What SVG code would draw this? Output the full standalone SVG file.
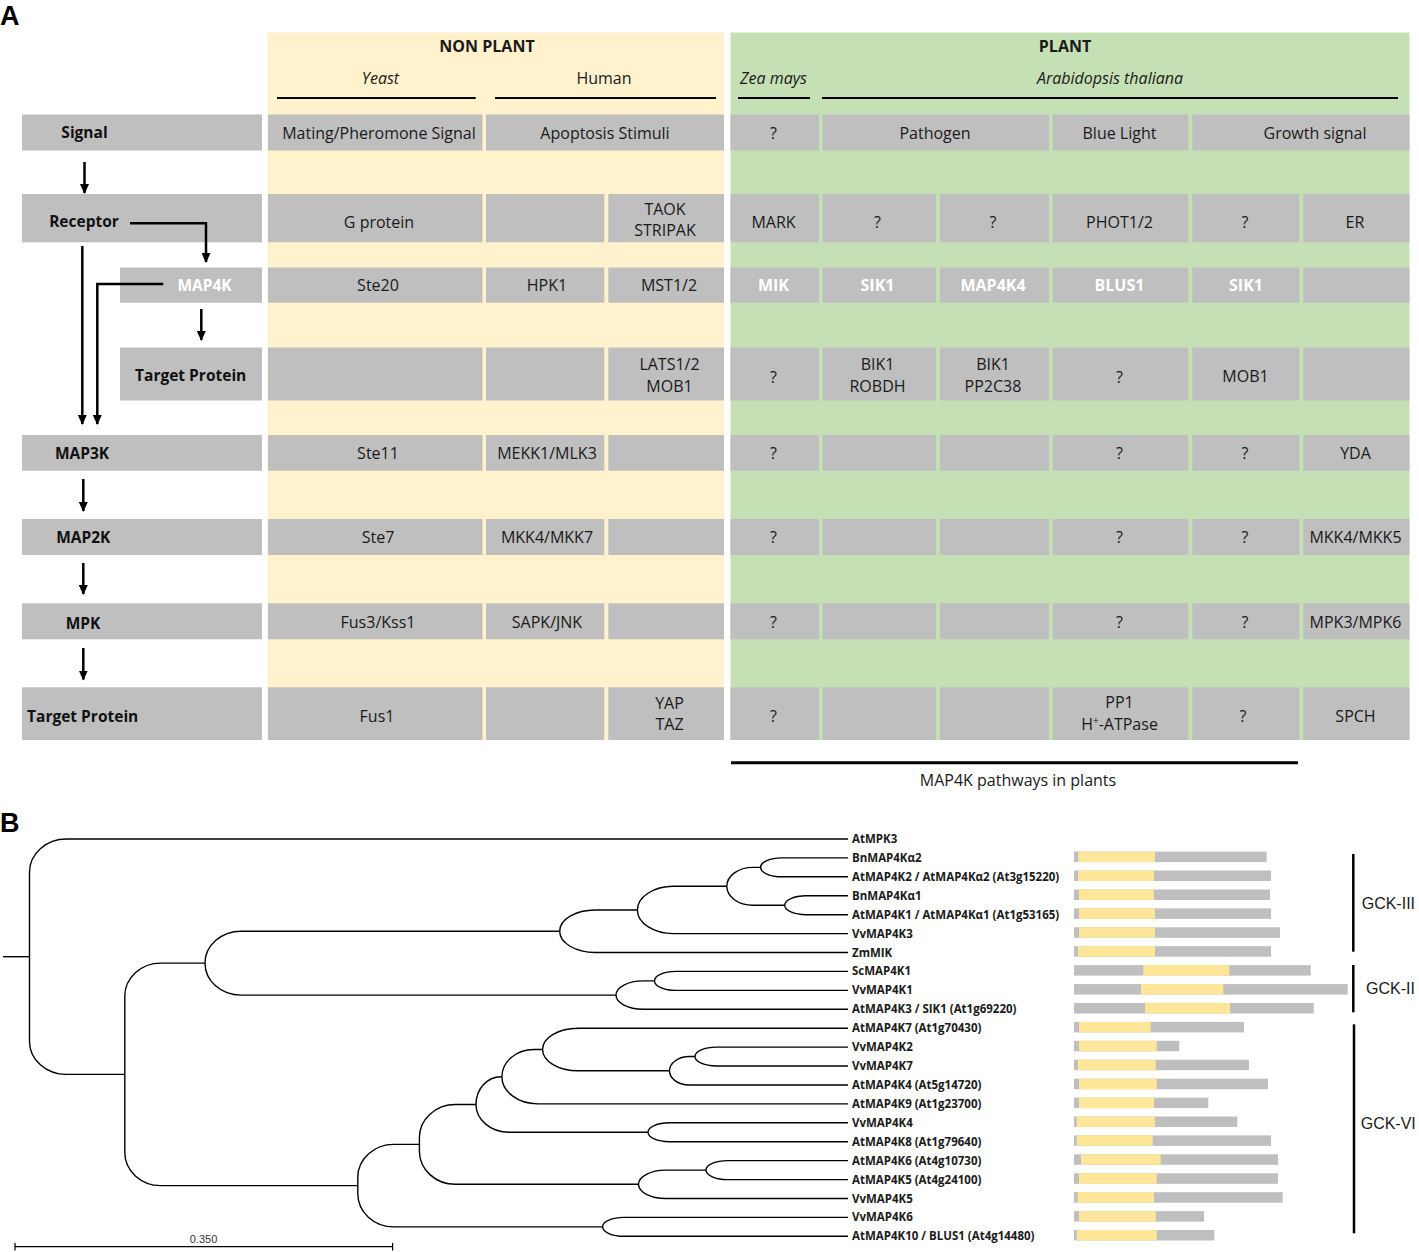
<svg xmlns="http://www.w3.org/2000/svg" width="1419" height="1252" viewBox="0 0 1419 1252">
<defs>
<style>
.c{fill:#bfbfbf}
.t{font-family:"Open Sans",sans-serif;font-size:16px;fill:#1a1a1a;text-anchor:middle}
.wb{fill:#ffffff;font-weight:700}
.it{font-style:italic}
.bd{font-weight:700}
.lb{font-family:"Open Sans",sans-serif;font-size:15.5px;font-weight:700;fill:#111;text-anchor:middle}
.arr{stroke:#000;stroke-width:2.5;fill:none;marker-end:url(#ah)}
.ul{stroke:#000;stroke-width:2}
.tr{stroke:#000;stroke-width:1.4;fill:none}
.lf{font-family:"Open Sans",sans-serif;font-size:11.5px;font-weight:700;fill:#1a1a1a}
.bg{fill:#bfbfbf}
.by{fill:#ffe699}
.gk{font-family:"Liberation Sans",Arial,sans-serif;font-size:16px;fill:#1a1a1a}
.gl{stroke:#000;stroke-width:2.5}
.pl{font-family:"Liberation Sans",Arial,sans-serif;font-weight:700;font-size:27px;fill:#000}
</style>
<marker id="ah" markerWidth="10" markerHeight="9" refX="9" refY="4.5" orient="auto" markerUnits="userSpaceOnUse"><path d="M0,0 L10,4.5 L0,9 z" fill="#000"/></marker>
</defs>
<rect width="1419" height="1252" fill="#ffffff"/>
<text class="pl" x="0" y="25">A</text>
<text class="pl" x="0" y="832">B</text>

<g id="panels">
<rect x="267.5" y="32.5" width="456.5" height="707.5" fill="#fff2cc"/>
<rect x="730.5" y="32.5" width="679" height="707.5" fill="#c5e0b4"/>
</g>

<g id="headers">
<text class="t bd" x="487" y="52.3">NON PLANT</text>
<text class="t bd" x="1065" y="52.3">PLANT</text>
<text class="t it" x="380.5" y="84">Yeast</text>
<text class="t" x="604" y="84">Human</text>
<text class="t it" x="773.5" y="84">Zea mays</text>
<text class="t it" x="1110" y="84">Arabidopsis thaliana</text>
<line class="ul" x1="277" y1="98" x2="475.7" y2="98"/>
<line class="ul" x1="495" y1="98" x2="716" y2="98"/>
<line class="ul" x1="738" y1="98" x2="810" y2="98"/>
<line class="ul" x1="822" y1="98" x2="1398" y2="98"/>
</g>

<g id="row-signal">
<rect class="c" x="22" y="114.5" width="240" height="36"/>
<rect class="c" x="268" y="114.5" width="214.5" height="36"/>
<rect class="c" x="486" y="114.5" width="238" height="36"/>
<rect class="c" x="730.5" y="114.5" width="88.5" height="36"/>
<rect class="c" x="822.5" y="114.5" width="226.5" height="36"/>
<rect class="c" x="1052.7" y="114.5" width="135.6" height="36"/>
<rect class="c" x="1192.3" y="114.5" width="217.2" height="36"/>
<text class="lb" x="84.5" y="138.3">Signal</text>
<text class="t" x="379" y="139">Mating/Pheromone Signal</text>
<text class="t" x="605" y="139">Apoptosis Stimuli</text>
<text class="t" x="773.5" y="139">?</text>
<text class="t" x="935" y="139">Pathogen</text>
<text class="t" x="1119.5" y="139">Blue Light</text>
<text class="t" x="1315" y="139">Growth signal</text>
</g>

<g id="row-receptor">
<rect class="c" x="22" y="194" width="240" height="48.3"/>
<rect class="c" x="268" y="194" width="214.5" height="48.3"/>
<rect class="c" x="486" y="194" width="118.3" height="48.3"/>
<rect class="c" x="608.3" y="194" width="115.7" height="48.3"/>
<rect class="c" x="730.5" y="194" width="88.5" height="48.3"/>
<rect class="c" x="822.5" y="194" width="113.5" height="48.3"/>
<rect class="c" x="940" y="194" width="109" height="48.3"/>
<rect class="c" x="1052.7" y="194" width="135.6" height="48.3"/>
<rect class="c" x="1192.3" y="194" width="107" height="48.3"/>
<rect class="c" x="1303.3" y="194" width="106.2" height="48.3"/>
<text class="lb" x="84" y="226.7">Receptor</text>
<text class="t" x="379" y="227.5">G protein</text>
<text class="t" x="665" y="215">TAOK</text>
<text class="t" x="665" y="236">STRIPAK</text>
<text class="t" x="773.5" y="227.5">MARK</text>
<text class="t" x="877.5" y="227.5">?</text>
<text class="t" x="993" y="227.5">?</text>
<text class="t" x="1119.5" y="227.5">PHOT1/2</text>
<text class="t" x="1245" y="227.5">?</text>
<text class="t" x="1355" y="227.5">ER</text>
</g>

<g id="row-map4k">
<rect class="c" x="120" y="267.5" width="142" height="35.2"/>
<rect class="c" x="268" y="267.5" width="214.5" height="35.2"/>
<rect class="c" x="486" y="267.5" width="118.3" height="35.2"/>
<rect class="c" x="608.3" y="267.5" width="115.7" height="35.2"/>
<rect class="c" x="730.5" y="267.5" width="88.5" height="35.2"/>
<rect class="c" x="822.5" y="267.5" width="113.5" height="35.2"/>
<rect class="c" x="940" y="267.5" width="109" height="35.2"/>
<rect class="c" x="1052.7" y="267.5" width="135.6" height="35.2"/>
<rect class="c" x="1192.3" y="267.5" width="107" height="35.2"/>
<rect class="c" x="1303.3" y="267.5" width="106.2" height="35.2"/>
<text class="lb" x="204.5" y="290.7" style="fill:#ffffff">MAP4K</text>
<text class="t" x="378" y="291">Ste20</text>
<text class="t" x="547" y="291">HPK1</text>
<text class="t" x="669" y="291">MST1/2</text>
<text class="t wb" x="773.5" y="291">MIK</text>
<text class="t wb" x="877.5" y="291">SIK1</text>
<text class="t wb" x="993" y="291">MAP4K4</text>
<text class="t wb" x="1119.5" y="291">BLUS1</text>
<text class="t wb" x="1246" y="291">SIK1</text>
</g>

<g id="row-map4k-target">
<rect class="c" x="120" y="347.5" width="142" height="53"/>
<rect class="c" x="268" y="347.5" width="214.5" height="53"/>
<rect class="c" x="486" y="347.5" width="118.3" height="53"/>
<rect class="c" x="608.3" y="347.5" width="115.7" height="53"/>
<rect class="c" x="730.5" y="347.5" width="88.5" height="53"/>
<rect class="c" x="822.5" y="347.5" width="113.5" height="53"/>
<rect class="c" x="940" y="347.5" width="109" height="53"/>
<rect class="c" x="1052.7" y="347.5" width="135.6" height="53"/>
<rect class="c" x="1192.3" y="347.5" width="107" height="53"/>
<rect class="c" x="1303.3" y="347.5" width="106.2" height="53"/>
<text class="lb" x="190.7" y="381">Target Protein</text>
<text class="t" x="669.5" y="370">LATS1/2</text>
<text class="t" x="669.5" y="391.7">MOB1</text>
<text class="t" x="773.5" y="382.7">?</text>
<text class="t" x="877.5" y="370">BIK1</text>
<text class="t" x="877.5" y="391.7">ROBDH</text>
<text class="t" x="993" y="370">BIK1</text>
<text class="t" x="993" y="391.7">PP2C38</text>
<text class="t" x="1119.5" y="382.7">?</text>
<text class="t" x="1245.5" y="381.7">MOB1</text>
</g>

<g id="row-map3k">
<rect class="c" x="22" y="435" width="240" height="35.7"/>
<rect class="c" x="268" y="435" width="214.5" height="35.7"/>
<rect class="c" x="486" y="435" width="118.3" height="35.7"/>
<rect class="c" x="608.3" y="435" width="115.7" height="35.7"/>
<rect class="c" x="730.5" y="435" width="88.5" height="35.7"/>
<rect class="c" x="822.5" y="435" width="113.5" height="35.7"/>
<rect class="c" x="940" y="435" width="109" height="35.7"/>
<rect class="c" x="1052.7" y="435" width="135.6" height="35.7"/>
<rect class="c" x="1192.3" y="435" width="107" height="35.7"/>
<rect class="c" x="1303.3" y="435" width="106.2" height="35.7"/>
<text class="lb" x="82" y="459.3">MAP3K</text>
<text class="t" x="378" y="459.3">Ste11</text>
<text class="t" x="547" y="459.3">MEKK1/MLK3</text>
<text class="t" x="773.5" y="459.3">?</text>
<text class="t" x="1119.5" y="459.3">?</text>
<text class="t" x="1245" y="459.3">?</text>
<text class="t" x="1355.5" y="459.3">YDA</text>
</g>

<g id="row-map2k">
<rect class="c" x="22" y="519" width="240" height="36"/>
<rect class="c" x="268" y="519" width="214.5" height="36"/>
<rect class="c" x="486" y="519" width="118.3" height="36"/>
<rect class="c" x="608.3" y="519" width="115.7" height="36"/>
<rect class="c" x="730.5" y="519" width="88.5" height="36"/>
<rect class="c" x="822.5" y="519" width="113.5" height="36"/>
<rect class="c" x="940" y="519" width="109" height="36"/>
<rect class="c" x="1052.7" y="519" width="135.6" height="36"/>
<rect class="c" x="1192.3" y="519" width="107" height="36"/>
<rect class="c" x="1303.3" y="519" width="106.2" height="36"/>
<text class="lb" x="83.3" y="543.3">MAP2K</text>
<text class="t" x="378" y="543.3">Ste7</text>
<text class="t" x="547" y="543.3">MKK4/MKK7</text>
<text class="t" x="773.5" y="543.3">?</text>
<text class="t" x="1119.5" y="543.3">?</text>
<text class="t" x="1245" y="543.3">?</text>
<text class="t" x="1355.5" y="543.3">MKK4/MKK5</text>
</g>

<g id="row-mpk">
<rect class="c" x="22" y="603.3" width="240" height="36"/>
<rect class="c" x="268" y="603.3" width="214.5" height="36"/>
<rect class="c" x="486" y="603.3" width="118.3" height="36"/>
<rect class="c" x="608.3" y="603.3" width="115.7" height="36"/>
<rect class="c" x="730.5" y="603.3" width="88.5" height="36"/>
<rect class="c" x="822.5" y="603.3" width="113.5" height="36"/>
<rect class="c" x="940" y="603.3" width="109" height="36"/>
<rect class="c" x="1052.7" y="603.3" width="135.6" height="36"/>
<rect class="c" x="1192.3" y="603.3" width="107" height="36"/>
<rect class="c" x="1303.3" y="603.3" width="106.2" height="36"/>
<text class="lb" x="83" y="629">MPK</text>
<text class="t" x="378" y="628.3">Fus3/Kss1</text>
<text class="t" x="547" y="628.3">SAPK/JNK</text>
<text class="t" x="773.5" y="628.3">?</text>
<text class="t" x="1119.5" y="628.3">?</text>
<text class="t" x="1245" y="628.3">?</text>
<text class="t" x="1355.5" y="628.3">MPK3/MPK6</text>
</g>

<g id="row-target">
<rect class="c" x="22" y="687.3" width="240" height="52.7"/>
<rect class="c" x="268" y="687.3" width="214.5" height="52.7"/>
<rect class="c" x="486" y="687.3" width="118.3" height="52.7"/>
<rect class="c" x="608.3" y="687.3" width="115.7" height="52.7"/>
<rect class="c" x="730.5" y="687.3" width="88.5" height="52.7"/>
<rect class="c" x="822.5" y="687.3" width="113.5" height="52.7"/>
<rect class="c" x="940" y="687.3" width="109" height="52.7"/>
<rect class="c" x="1052.7" y="687.3" width="135.6" height="52.7"/>
<rect class="c" x="1192.3" y="687.3" width="107" height="52.7"/>
<rect class="c" x="1303.3" y="687.3" width="106.2" height="52.7"/>
<text class="lb" x="82.7" y="721.7">Target Protein</text>
<text class="t" x="377" y="721.7">Fus1</text>
<text class="t" x="669.5" y="709">YAP</text>
<text class="t" x="669.5" y="730">TAZ</text>
<text class="t" x="773.5" y="721.7">?</text>
<text class="t" x="1119.5" y="708.3">PP1</text>
<text class="t" x="1119.5" y="730">H<tspan font-size="10" dy="-6">+</tspan><tspan dy="6">-ATPase</tspan></text>
<text class="t" x="1243" y="721.7">?</text>
<text class="t" x="1355.5" y="721.7">SPCH</text>
</g>

<g id="connectors-a">
<path class="arr" d="M84.5,162 V193"/>
<path class="arr" d="M130,223.3 H206 V262"/>
<path class="arr" d="M82.3,246 V424"/>
<path class="arr" d="M163.3,284 H97.3 V424"/>
<path class="arr" d="M201.3,309 V340"/>
<path class="arr" d="M83.3,479 V511"/>
<path class="arr" d="M83.3,563 V594"/>
<path class="arr" d="M83.3,648 V679.5"/>
</g>

<g id="plant-pathways">
<line x1="731" y1="762.7" x2="1298" y2="762.7" stroke="#000" stroke-width="3"/>
<text class="t" x="1018" y="786">MAP4K pathways in plants</text>
</g>

<g id="tree" transform="translate(0,-1)">
<path class="tr" d="M3,957.7 H29.5"/>
<path class="tr" d="M848,840 H66.5 A37,33 0 0 0 29.5,873 V1042.39 A37,33 0 0 0 66.5,1075.39 H124.8"/>
<path class="tr" d="M205,964.16 H160.8 A36,33 0 0 0 124.8,997.16 V1153.62 A36,33 0 0 0 160.8,1186.62 H357.8"/>
<path class="tr" d="M559.7,932.22 H241 A36,31.94 0 0 0 205,964.16 A36,31.94 0 0 0 241,996.1 H616"/>
<path class="tr" d="M637.4,910.95 H595.3 A35.6,21.27 0 0 0 559.7,932.22 A35.6,21.27 0 0 0 595.3,953.5 H848"/>
<path class="tr" d="M726.8,887.3 H673.4 A36,23.65 0 0 0 637.4,910.95 A36,23.65 0 0 0 673.4,934.6 H848"/>
<path class="tr" d="M760.6,868.35 H752.8 A26,18.95 0 0 0 726.8,887.3 A26,18.95 0 0 0 752.8,906.25 H784.7"/>
<path class="tr" d="M848,858.9 H781.9 A21.3,9.45 0 0 0 760.6,868.35 A21.3,9.45 0 0 0 781.9,877.8 H848"/>
<path class="tr" d="M848,896.8 H806 A21.3,9.45 0 0 0 784.7,906.25 A21.3,9.45 0 0 0 806,915.7 H848"/>
<path class="tr" d="M654.5,981.9 H643 A27,14.2 0 0 0 616,996.1 A27,14.2 0 0 0 643,1010.3 H848"/>
<path class="tr" d="M848,972.4 H675.9 A21.4,9.5 0 0 0 654.5,981.9 A21.4,9.5 0 0 0 675.9,991.4 H848"/>
<path class="tr" d="M419.4,1145.39 H393.8 A36,33 0 0 0 357.8,1178.39 V1194.85 A36,33 0 0 0 393.8,1227.85 H602.6"/>
<path class="tr" d="M476,1105.48 H455.4 A36,33 0 0 0 419.4,1138.48 V1152.3 A36,33 0 0 0 455.4,1185.3 H638.5"/>
<path class="tr" d="M501.9,1077.7 H501 A25,27.78 0 0 0 476,1105.48 A33,27.78 0 0 0 509,1133.25 H648"/>
<path class="tr" d="M542.6,1050.49 H533.9 A32,27.2 0 0 0 501.9,1077.7 A36,27.2 0 0 0 537.9,1104.9 H848"/>
<path class="tr" d="M848,1029.2 H578.2 A35.6,21.29 0 0 0 542.6,1050.49 A35.6,21.29 0 0 0 578.2,1071.78 H669.5"/>
<path class="tr" d="M695,1057.55 H689.5 A20,14.22 0 0 0 669.5,1071.78 A20,14.22 0 0 0 689.5,1086 H848"/>
<path class="tr" d="M848,1048.1 H716.3 A21.3,9.45 0 0 0 695,1057.55 A21.3,9.45 0 0 0 716.3,1067 H848"/>
<path class="tr" d="M848,1123.8 H669.3 A21.3,9.45 0 0 0 648,1133.25 A21.3,9.45 0 0 0 669.3,1142.7 H848"/>
<path class="tr" d="M706,1171.1 H665.5 A27,14.2 0 0 0 638.5,1185.3 A27,14.2 0 0 0 665.5,1199.5 H848"/>
<path class="tr" d="M848,1161.6 H727.4 A21.4,9.5 0 0 0 706,1171.1 A21.4,9.5 0 0 0 727.4,1180.6 H848"/>
<path class="tr" d="M848,1218.4 H623.9 A21.3,9.45 0 0 0 602.6,1227.85 A21.3,9.45 0 0 0 623.9,1237.3 H848"/>
</g>

<g id="scale">
<path d="M15,1246.7 H392.6 M15,1243 V1250.5 M392.6,1243 V1250.5" stroke="#000" stroke-width="1.2" fill="none"/>
<text x="203.5" y="1242.5" font-family="Liberation Sans, Arial, sans-serif" font-size="11" fill="#333" text-anchor="middle">0.350</text>
</g>

<g id="leaf-labels">
<text class="lf" x="852" y="843">AtMPK3</text>
<text class="lf" x="852" y="861.9">BnMAP4Kα2</text>
<text class="lf" x="852" y="880.8">AtMAP4K2 / AtMAP4Kα2 (At3g15220)</text>
<text class="lf" x="852" y="899.8">BnMAP4Kα1</text>
<text class="lf" x="852" y="918.7">AtMAP4K1 / AtMAP4Kα1 (At1g53165)</text>
<text class="lf" x="852" y="937.6">VvMAP4K3</text>
<text class="lf" x="852" y="956.5">ZmMIK</text>
<text class="lf" x="852" y="975.4">ScMAP4K1</text>
<text class="lf" x="852" y="994.4">VvMAP4K1</text>
<text class="lf" x="852" y="1013.3">AtMAP4K3 / SIK1 (At1g69220)</text>
<text class="lf" x="852" y="1032.2">AtMAP4K7 (At1g70430)</text>
<text class="lf" x="852" y="1051.1">VvMAP4K2</text>
<text class="lf" x="852" y="1070">VvMAP4K7</text>
<text class="lf" x="852" y="1089">AtMAP4K4 (At5g14720)</text>
<text class="lf" x="852" y="1107.9">AtMAP4K9 (At1g23700)</text>
<text class="lf" x="852" y="1126.8">VvMAP4K4</text>
<text class="lf" x="852" y="1145.7">AtMAP4K8 (At1g79640)</text>
<text class="lf" x="852" y="1164.6">AtMAP4K6 (At4g10730)</text>
<text class="lf" x="852" y="1183.6">AtMAP4K5 (At4g24100)</text>
<text class="lf" x="852" y="1202.5">VvMAP4K5</text>
<text class="lf" x="852" y="1221.4">VvMAP4K6</text>
<text class="lf" x="852" y="1240.3">AtMAP4K10 / BLUS1 (At4g14480)</text>
</g>

<g id="domain-bars">
<rect class="bg" x="1074" y="851.6" width="192.7" height="10.5"/><rect class="by" x="1078.3" y="851.6" width="76.7" height="10.5"/>
<rect class="bg" x="1074" y="870.5" width="197" height="10.5"/><rect class="by" x="1078" y="870.5" width="76" height="10.5"/>
<rect class="bg" x="1074" y="889.5" width="196" height="10.5"/><rect class="by" x="1079" y="889.5" width="75" height="10.5"/>
<rect class="bg" x="1074" y="908.4" width="197" height="10.5"/><rect class="by" x="1079" y="908.4" width="76" height="10.5"/>
<rect class="bg" x="1074" y="927.3" width="206" height="10.5"/><rect class="by" x="1079" y="927.3" width="76" height="10.5"/>
<rect class="bg" x="1074" y="946.2" width="197" height="10.5"/><rect class="by" x="1078" y="946.2" width="77" height="10.5"/>
<rect class="bg" x="1074" y="965.1" width="236.7" height="10.5"/><rect class="by" x="1143.3" y="965.1" width="86" height="10.5"/>
<rect class="bg" x="1074" y="984.1" width="273.7" height="10.5"/><rect class="by" x="1141" y="984.1" width="82.3" height="10.5"/>
<rect class="bg" x="1074" y="1003" width="239.7" height="10.5"/><rect class="by" x="1145" y="1003" width="85" height="10.5"/>
<rect class="bg" x="1074" y="1021.9" width="170" height="10.5"/><rect class="by" x="1079" y="1021.9" width="71.7" height="10.5"/>
<rect class="bg" x="1074" y="1040.8" width="105.3" height="10.5"/><rect class="by" x="1079" y="1040.8" width="77.7" height="10.5"/>
<rect class="bg" x="1074" y="1059.7" width="175" height="10.5"/><rect class="by" x="1078" y="1059.7" width="77.7" height="10.5"/>
<rect class="bg" x="1074" y="1078.7" width="194" height="10.5"/><rect class="by" x="1079" y="1078.7" width="77.7" height="10.5"/>
<rect class="bg" x="1074" y="1097.6" width="134.3" height="10.5"/><rect class="by" x="1079" y="1097.6" width="75" height="10.5"/>
<rect class="bg" x="1074" y="1116.5" width="163.3" height="10.5"/><rect class="by" x="1076.7" y="1116.5" width="78.3" height="10.5"/>
<rect class="bg" x="1074" y="1135.4" width="197" height="10.5"/><rect class="by" x="1076.7" y="1135.4" width="76" height="10.5"/>
<rect class="bg" x="1074" y="1154.3" width="204" height="10.5"/><rect class="by" x="1081" y="1154.3" width="79.7" height="10.5"/>
<rect class="bg" x="1074" y="1173.3" width="204" height="10.5"/><rect class="by" x="1079" y="1173.3" width="77.7" height="10.5"/>
<rect class="bg" x="1074" y="1192.2" width="208.7" height="10.5"/><rect class="by" x="1077.7" y="1192.2" width="76.3" height="10.5"/>
<rect class="bg" x="1074" y="1211.1" width="130" height="10.5"/><rect class="by" x="1079" y="1211.1" width="76.7" height="10.5"/>
<rect class="bg" x="1074" y="1230" width="140.3" height="10.5"/><rect class="by" x="1076.7" y="1230" width="80" height="10.5"/>
</g>

<g id="groups">
<line class="gl" x1="1353.3" y1="854" x2="1353.3" y2="951.7"/>
<text class="gk" x="1361.7" y="909">GCK-III</text>
<line class="gl" x1="1353.3" y1="965" x2="1353.3" y2="1012.3"/>
<text class="gk" x="1366" y="993.5">GCK-II</text>
<line class="gl" x1="1354" y1="1024.3" x2="1354" y2="1233.3"/>
<text class="gk" x="1360.7" y="1129">GCK-VI</text>
</g>
</svg>
